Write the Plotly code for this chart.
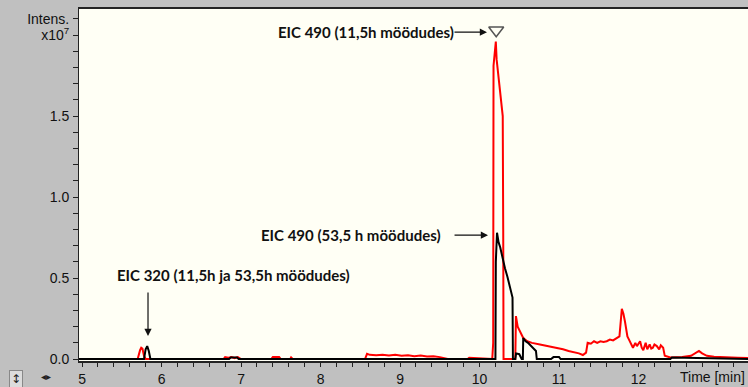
import plotly.graph_objects as go

# ---------------- data (intensity in units of 1e7) ----------------
red_time = [4.96, 5.70, 5.73, 5.745, 5.76, 5.78, 5.80, 6.78, 6.80, 6.84, 6.88, 6.92, 6.96, 7.00,
            7.38, 7.40, 7.48, 7.50, 7.62, 7.63, 7.65, 8.56, 8.585, 8.62, 8.70, 8.78, 8.86, 8.94,
            9.02, 9.10, 9.18, 9.26, 9.34, 9.42, 9.50, 9.55, 9.60, 9.85, 9.87, 10.16, 10.172,
            10.176, 10.19, 10.205, 10.215, 10.24, 10.27, 10.292, 10.298, 10.302, 10.45, 10.458,
            10.48, 10.51, 10.55, 10.60, 10.66, 10.76, 10.86, 10.97, 11.05, 11.12, 11.18, 11.25,
            11.30, 11.34, 11.36, 11.40, 11.44, 11.48, 11.52, 11.56, 11.60, 11.64, 11.68, 11.73,
            11.76, 11.79, 11.81, 11.83, 11.86, 11.88, 11.91, 11.93, 11.96, 11.98, 12.02, 12.04,
            12.06, 12.09, 12.11, 12.14, 12.16, 12.18, 12.20, 12.23, 12.26, 12.28, 12.31, 12.33,
            12.40, 12.55, 12.66, 12.72, 12.76, 12.80, 12.86, 12.95, 13.10, 13.25, 13.38]
red_int = [0.0, 0.0, 0.055, 0.07, 0.065, 0.02, 0.0, 0.0, 0.012, 0.008, 0.012, 0.006, 0.012, 0.0,
           0.0, 0.012, 0.012, 0.0, 0.0, 0.01, 0.0, 0.0, 0.032, 0.026, 0.024, 0.027, 0.022, 0.026,
           0.021, 0.024, 0.018, 0.022, 0.016, 0.018, 0.012, 0.008, 0.0, 0.0, 0.008, 0.0, 0.1,
           1.81, 1.90, 1.96, 1.85, 1.73, 1.62, 1.50, 0.8, 0.0, 0.0, 0.265,
           0.2, 0.17, 0.13, 0.11, 0.10, 0.09, 0.08, 0.07, 0.06, 0.05, 0.045, 0.035,
           0.025, 0.04, 0.10, 0.095, 0.11, 0.10, 0.11, 0.105, 0.11, 0.12, 0.115, 0.13,
           0.14, 0.31, 0.28, 0.23, 0.14, 0.12, 0.09, 0.07, 0.10, 0.08, 0.11, 0.07,
           0.055, 0.10, 0.06, 0.09, 0.065, 0.07, 0.09, 0.08, 0.06, 0.085, 0.07, 0.02,
           0.01, 0.012, 0.02, 0.035, 0.05, 0.035, 0.02, 0.015, 0.01, 0.008, 0.006]

black_time = [4.96, 5.78, 5.80, 5.82, 5.84, 5.86, 6.85, 6.87, 6.95, 6.97, 10.20, 10.205,
              10.22, 10.24, 10.26, 10.29, 10.32, 10.35, 10.38, 10.40, 10.415, 10.42, 10.45,
              10.46, 10.50, 10.53, 10.545, 10.55, 10.58, 10.61, 10.65, 10.68, 10.71, 10.72,
              10.90, 10.93, 11.00, 11.02, 12.40, 12.42, 13.38]
black_int = [0.0, 0.0, 0.06, 0.08, 0.05, 0.0, 0.0, 0.01, 0.01, 0.0, 0.0, 0.6,
             0.78, 0.72, 0.69, 0.62, 0.56, 0.51, 0.45, 0.40, 0.38, 0.0, 0.0,
             0.035, 0.03, 0.0, 0.0, 0.13, 0.11, 0.10, 0.08, 0.07, 0.05, 0.0,
             0.0, 0.012, 0.012, 0.0, 0.0, 0.01, 0.0]

y_tick_vals = [0.0, 0.5, 1.0, 1.5, 2.0, 2.1]
y_tick_text = ["0.0", "0.5", "1.0", "1.5", "x10<sup>7</sup>", "Intens."]
x_tick_vals = [5, 6, 7, 8, 9, 10, 11, 12]
x_tick_text = ["5", "6", "7", "8", "9", "10", "11", "12"]

apex_time = [10.21]
apex_int = [2.03]

labels = [
    ("EIC 490 (11,5h möödudes)", 9.70, 2.018, "right"),
    ("EIC 490 (53,5 h möödudes)", 9.54, 0.765, "right"),
    ("EIC 320 (11,5h ja 53,5h möödudes)", 6.91, 0.518, "center"),
]
arrows = [
    (10.094, 2.018, -34, 0),
    (10.107, 0.765, -35, 0),
    (5.83, 0.142, 0, -45),
]

# ---------------- figure ----------------
fig = go.Figure()
fig.add_trace(go.Scatter(x=red_time, y=red_int, mode="lines",
                         line=dict(color="#ff0000", width=2), showlegend=False))
fig.add_trace(go.Scatter(x=black_time, y=black_int, mode="lines",
                         line=dict(color="#000000", width=2), showlegend=False))
fig.add_trace(go.Scatter(x=apex_time, y=apex_int, mode="markers",
                         marker=dict(symbol="triangle-down-open", size=13,
                                     color="#555555", line=dict(width=1.5, color="#555555")),
                         showlegend=False))

tick_font = dict(family="Liberation Sans Narrow, Arial Narrow, Liberation Sans, sans-serif",
                 size=14, color="#111111")
ann_font = dict(family="Lato, Noto Sans, sans-serif", size=15, color="#111111")

for txt, x, y, anchor in labels:
    fig.add_annotation(x=x, y=y, text="<b>%s</b>" % txt, showarrow=False,
                       xanchor=anchor, yanchor="middle", font=ann_font)
for x, y, ax, ay in arrows:
    fig.add_annotation(x=x, y=y, ax=ax, ay=ay, text="", showarrow=True,
                       arrowhead=2, arrowsize=1.2, arrowwidth=1.2, arrowcolor="#111111")

fig.add_annotation(xref="paper", yref="paper", x=0.947, y=-0.045, text="Time [min]",
                   showarrow=False, xanchor="center", yanchor="middle", font=tick_font)
fig.add_annotation(xref="paper", yref="paper", x=-0.094, y=-0.05, text="↕",
                   showarrow=False, xanchor="center", yanchor="middle",
                   font=dict(family="DejaVu Sans", size=12, color="#222"),
                   bgcolor="#dcdcdc", bordercolor="#888", borderwidth=1, borderpad=1)
fig.add_annotation(xref="paper", yref="paper", x=-0.05, y=-0.045, text="◂▸",
                   showarrow=False, xanchor="center", yanchor="middle",
                   font=dict(family="DejaVu Sans", size=10, color="#222"))

fig.update_xaxes(range=[4.962, 13.377], tickmode="array", tickvals=x_tick_vals,
                 ticktext=x_tick_text, ticks="outside", ticklen=4, tickwidth=1,
                 tickcolor="#222", showline=True, linecolor="#222", linewidth=2,
                 mirror=True, showgrid=False, zeroline=False, tickfont=tick_font,
                 automargin=False,
                 minor=dict(dtick=0.2, ticks="outside", ticklen=4, tickcolor="#222",
                            showgrid=False))
fig.update_yaxes(range=[-0.012, 2.161], tickmode="array", tickvals=y_tick_vals,
                 ticktext=y_tick_text, ticks="outside", ticklen=5, tickwidth=1,
                 tickcolor="#222", showline=True, linecolor="#222", linewidth=1,
                 mirror=False, showgrid=False, zeroline=False, tickfont=tick_font,
                 ticklabelstandoff=1, automargin=False,
                 minor=dict(dtick=0.1, ticks="outside", ticklen=5, tickcolor="#222",
                            showgrid=False))

fig.update_layout(width=748, height=387, margin=dict(l=79, r=0, t=9, b=26),
                  paper_bgcolor="#c0c0c0", plot_bgcolor="#fffff5")

fig.write_html("out.html", config={"displayModeBar": False},
               post_script="document.body.style.margin='0px';"
                           "document.body.style.overflow='hidden';"
                           "document.body.style.background='#c0c0c0';")
